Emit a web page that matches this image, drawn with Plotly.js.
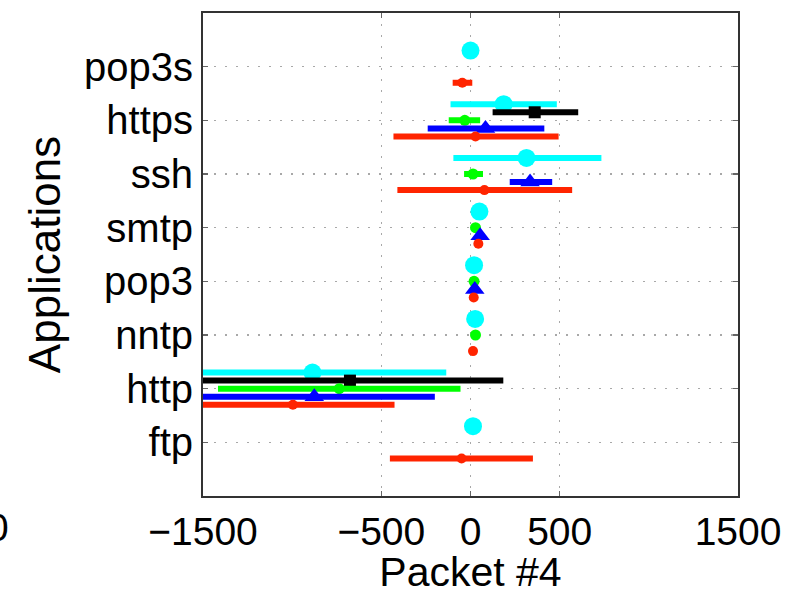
<!DOCTYPE html>
<html>
<head>
<meta charset="utf-8">
<script src="https://cdn.plot.ly/plotly-3.0.1.min.js"></script>
<style>html,body{margin:0;padding:0;background:#fff;}#chart{width:801px;height:595px;}</style>
</head>
<body>
<div id="chart"></div>
<script>
// Categories (bottom to top)
const categories = ['ftp', 'http', 'nntp', 'pop3', 'smtp', 'ssh', 'https', 'pop3s'];

// Series 1 (cyan, circle)
const cyanMean = [14, -886, 26, 20, 50, 314, 186, 0];
const cyanLow  = [14, -1700, 26, 20, 50, -96, -112, 0];
const cyanHigh = [14, -136, 26, 20, 50, 734, 484, 0];

// Series 2 (black, square)
const blackMean = [null, -676, null, null, null, null, 360, null];
const blackLow  = [null, -1700, null, null, null, null, 124, null];
const blackHigh = [null, 184, null, null, null, null, 604, null];

// Series 3 (green, circle)
const greenMean = [null, -736, 28, 20, 28, 14, -32, null];
const greenLow  = [null, -1416, 28, 20, 28, -36, -122, null];
const greenHigh = [null, -56, 28, 20, 28, 70, 54, null];

// Series 4 (blue, triangle)
const blueMean = [null, -876, null, 24, 54, 334, 84, null];
const blueLow  = [null, -1700, null, 24, 54, 220, -240, null];
const blueHigh = [null, -200, null, 24, 54, 458, 414, null];

// Series 5 (red, circle)
const redMean = [-50, -996, 14, 18, 44, 78, 28, -46];
const redLow  = [-452, -1700, 14, 18, 44, -410, -432, -100];
const redHigh = [350, -426, 14, 18, 44, 570, 494, 10];

// X tick labels
const xTickVals = [-1500, -500, 0, 500, 1500];
const xTickText = ['\u22121500', '\u2212500', '0', '500', '1500'];

const series = [
  {name: 'cyan',  mean: cyanMean,  low: cyanLow,  high: cyanHigh,  color: '#00ffff', symbol: 'circle',      size: 18, off: 0.30},
  {name: 'black', mean: blackMean, low: blackLow, high: blackHigh, color: '#000000', symbol: 'square',      size: 12, off: 0.15},
  {name: 'green', mean: greenMean, low: greenLow, high: greenHigh, color: '#00ff00', symbol: 'circle',      size: 11, off: 0.0},
  {name: 'blue',  mean: blueMean,  low: blueLow,  high: blueHigh,  color: '#0000ff', symbol: 'triangle-up', size: 17, off: -0.15},
  {name: 'red',   mean: redMean,   low: redLow,   high: redHigh,   color: '#ff2400', symbol: 'circle',      size: 10, off: -0.30}
];

const traces = series.map(s => ({
  type: 'scatter',
  mode: 'markers',
  name: s.name,
  x: s.mean,
  y: categories.map((c, i) => i + 1 + s.off),
  marker: {color: s.color, symbol: s.symbol, size: s.size, line: {width: 0}},
  error_x: {
    type: 'data', symmetric: false,
    array: s.mean.map((m, i) => m === null ? null : s.high[i] - m),
    arrayminus: s.mean.map((m, i) => m === null ? null : m - s.low[i]),
    color: s.color, thickness: 6, width: 0
  },
  cliponaxis: true,
  showlegend: false
}));

const font = 'Liberation Sans, Arial, Helvetica, sans-serif';

const layout = {
  width: 801, height: 595,
  margin: {l: 203, r: 63, t: 13, b: 99},
  paper_bgcolor: '#fff', plot_bgcolor: '#fff',
  font: {family: font, color: '#000', size: 39},
  xaxis: {
    range: [-1500, 1500],
    tickvals: xTickVals, ticktext: xTickText,
    showgrid: true, gridcolor: '#a8a8a8', griddash: '2px,9px', gridwidth: 1.5,
    zeroline: false,
    showline: true, linecolor: '#333', linewidth: 2, mirror: 'ticks',
    ticks: 'inside', ticklen: 5, tickcolor: '#666', tickwidth: 1.5,
    tickfont: {size: 39, family: font},
    title: {text: 'Packet #4', font: {size: 41, family: font}, standoff: 9},
    automargin: false
  },
  yaxis: {
    range: [0, 9],
    tickvals: categories.map((c, i) => i + 1), ticktext: categories,
    showgrid: true, gridcolor: '#a8a8a8', griddash: '2px,9px', gridwidth: 1.5,
    zeroline: false,
    showline: true, linecolor: '#333', linewidth: 2, mirror: 'ticks',
    ticks: 'inside', ticklen: 5, tickcolor: '#666', tickwidth: 1.5,
    tickfont: {size: 40, family: font},
    title: {text: 'Applications', font: {size: 44, family: font}, standoff: 10},
    automargin: false
  },
  annotations: [{
    text: '0', xref: 'paper', yref: 'paper', x: -0.384, y: 0,
    xanchor: 'center', yanchor: 'top', yshift: -8, showarrow: false,
    font: {size: 39, family: font}
  }]
};

Plotly.newPlot('chart', traces, layout, {displayModeBar: false, staticPlot: true});
</script>
</body>
</html>
